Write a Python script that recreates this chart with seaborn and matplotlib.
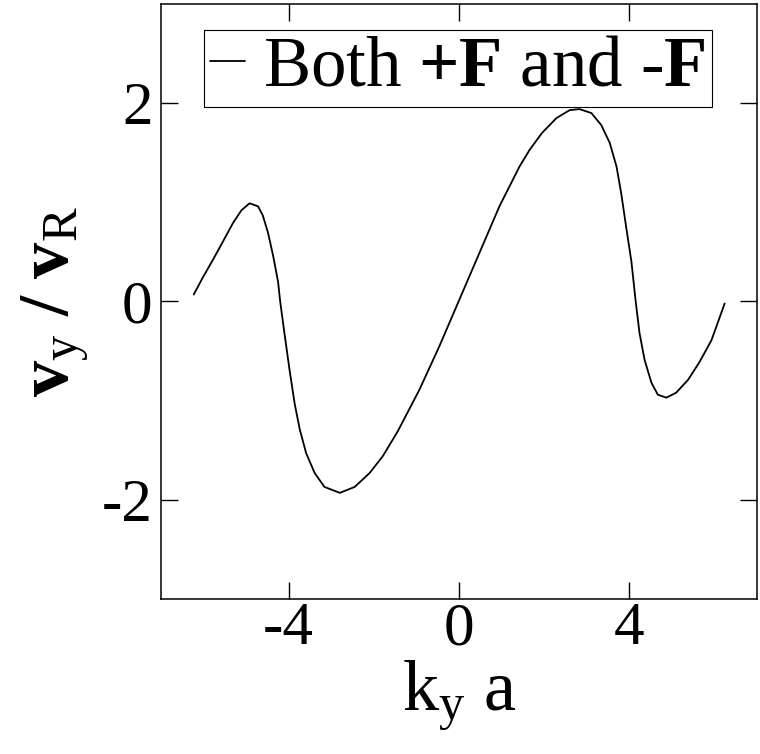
import numpy as np
import pandas as pd
import matplotlib
matplotlib.use('Agg')
import matplotlib.pyplot as plt
import seaborn as sns

# Curve (k_y a vs v_y / v_R)
ky_a = [-6.23, -6.02, -5.78, -5.55, -5.31, -5.11, -4.92, -4.72, -4.61, -4.49,
        -4.37, -4.25, -4.20, -4.10, -3.98, -3.86, -3.74, -3.59, -3.39, -3.16,
        -2.80, -2.45, -2.10, -1.79, -1.44, -0.93, -0.46, 0.01, 0.48, 0.95,
        1.42, 1.66, 1.95, 2.29, 2.60, 2.83, 3.11, 3.34, 3.54, 3.70,
        3.81, 3.93, 4.05, 4.15, 4.24, 4.36, 4.52, 4.67, 4.87, 5.10,
        5.38, 5.65, 5.93, 6.24]
vy_vr = [0.07, 0.24, 0.42, 0.60, 0.79, 0.92, 0.99, 0.96, 0.87, 0.70,
         0.47, 0.20, 0.00, -0.32, -0.69, -1.03, -1.29, -1.53, -1.73, -1.87,
         -1.93, -1.87, -1.73, -1.56, -1.31, -0.89, -0.45, 0.02, 0.49, 0.96,
         1.36, 1.53, 1.70, 1.85, 1.93, 1.94, 1.90, 1.78, 1.60, 1.36,
         1.09, 0.74, 0.40, 0.00, -0.32, -0.59, -0.82, -0.94, -0.97, -0.92,
         -0.79, -0.61, -0.39, -0.02]

x_ticks = [-4, 0, 4]
y_ticks = [-2, 0, 2]
legend_label = r'Both $\mathbf{+F}$ and -$\mathbf{F}$'

df = pd.DataFrame({'ky_a': ky_a, 'vy_vr': vy_vr})

# Style
sns.set_style('ticks')
plt.rcParams['font.family'] = ['Liberation Serif', 'DejaVu Serif']
plt.rcParams['mathtext.fontset'] = 'custom'
plt.rcParams['mathtext.rm'] = 'Liberation Serif'
plt.rcParams['mathtext.bf'] = 'Liberation Serif:bold'
plt.rcParams['mathtext.it'] = 'Liberation Serif:italic'
plt.rcParams['axes.unicode_minus'] = False
plt.rcParams['text.color'] = 'black'
plt.rcParams['axes.labelcolor'] = 'black'

fig = plt.figure(figsize=(7.6, 7.54), dpi=100)
ax = fig.add_axes([0.2118, 0.2056, 0.7843, 0.7891])

sns.lineplot(data=df, x='ky_a', y='vy_vr', color='black', linewidth=1.3,
             label=legend_label, ax=ax)

ax.set_xlim(-7, 7)
ax.set_ylim(-3, 3)
ax.set_xticks(x_ticks)
ax.set_yticks(y_ticks)
ax.tick_params(direction='in', length=12, width=1, top=True, right=True,
               labelsize=44, colors='black')
ax.tick_params(axis='x', pad=2)
ax.tick_params(axis='y', pad=6)
for sp in ax.spines.values():
    sp.set_linewidth(1.1)
    sp.set_color('black')

ax.set_xlabel(r'$\mathrm{k}_{\mathrm{y}}\ \mathrm{a}$', fontsize=52, color='black')
ax.set_ylabel(r'$\mathbf{v}_{\mathrm{y}}\ \mathbf{/}\ \mathbf{v}_{\mathrm{R}}$',
              fontsize=52, color='black')
ax.xaxis.set_label_coords(0.5, -0.10)
ax.yaxis.set_label_coords(-0.116, 0.5)

leg = ax.legend(loc='upper left', bbox_to_anchor=(0.072, 0.956), borderaxespad=0,
                fontsize=51, handlelength=0.5, handletextpad=0.26, borderpad=0.08,
                frameon=True, fancybox=False, edgecolor='black', framealpha=1)
leg.get_frame().set_linewidth(0.8)
for t in leg.get_texts():
    t.set_color('black')

fig.savefig('out.png', dpi=100)
